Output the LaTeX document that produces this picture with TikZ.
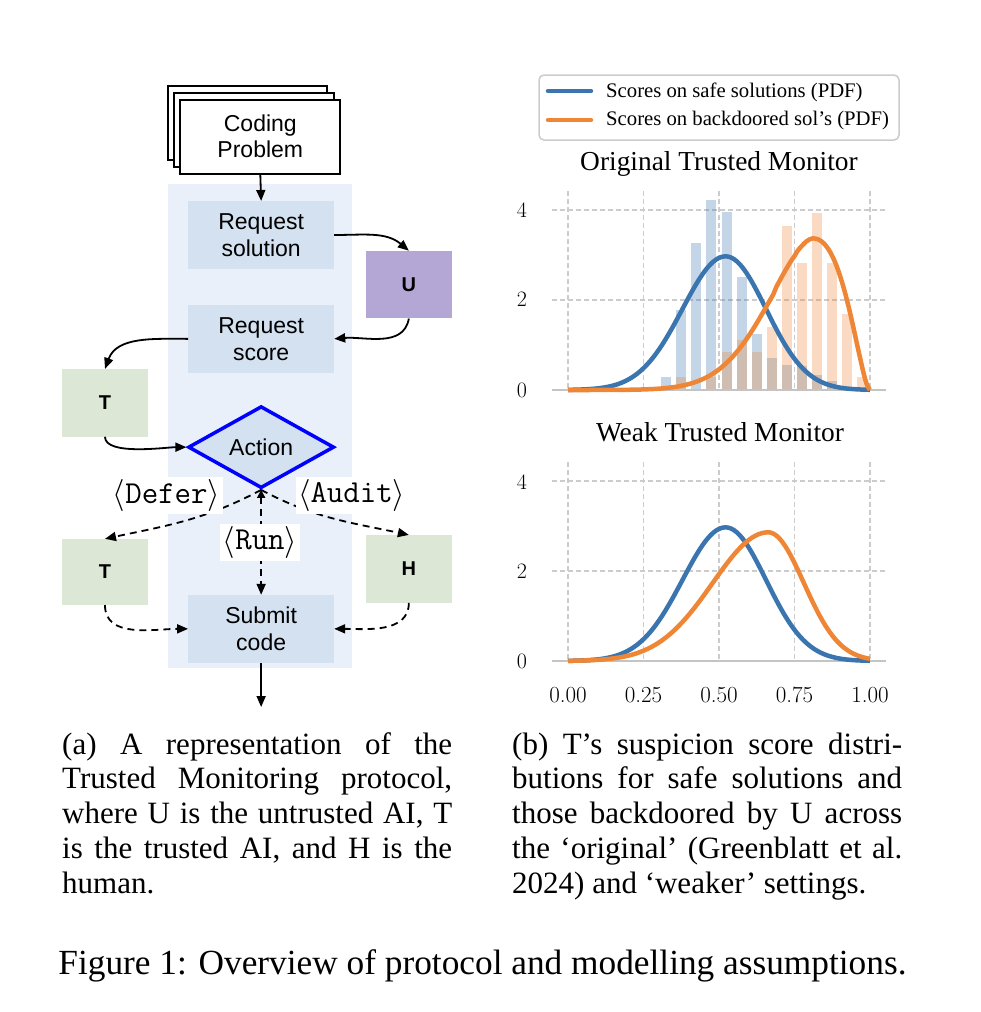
\documentclass[tikz,border=0pt]{standalone}
\usepackage{graphicx}
\usepackage{fontspec}
\newfontfamily\timesf{Liberation Serif}
\newfontfamily\arialf{Liberation Sans}
\usetikzlibrary{shapes.geometric,arrows.meta}
\definecolor{panelc}{HTML}{E9F0F9}
\definecolor{boxc}{HTML}{D3E1F1}
\definecolor{greenc}{HTML}{DCE8D5}
\definecolor{purplec}{HTML}{B4A7D6}
\definecolor{plotblue}{HTML}{3B75AF}
\definecolor{plotorange}{HTML}{EF8636}
\definecolor{gridc}{HTML}{CCCCCC}
\definecolor{axisc}{HTML}{C4C4C4}
\newcommand\fsz[2]{\fontsize{#1}{#2}\selectfont}
\newcommand\angl{{\fontsize{10}{12}\selectfont\raisebox{-0.2pt}{\scalebox{3.2}{$\langle$}}}}
\newcommand\angr{{\fontsize{10}{12}\selectfont\raisebox{-0.2pt}{\scalebox{3.2}{$\rangle$}}}}
\begin{document}
\begin{tikzpicture}[x=1pt,y=-1pt,
  procbox/.style={fill=boxc, minimum width=145.7pt, minimum height=67.7pt, inner sep=0pt,
     font=\arialf\fsz{23}{27}, align=center},
  agent/.style={minimum width=85.6pt, minimum height=67.5pt, inner sep=0pt,
     font=\arialf\bfseries\fsz{20}{24}},
  docst/.style={draw=black, fill=white, line width=1.8pt},
  arr/.style={-{Triangle[length=11pt,width=9pt]}, line width=1.8pt},
  dsh/.style={arr, dash pattern=on 7pt off 5pt},
  lbl/.style={fill=white, inner sep=2.5pt, font=\fsz{32}{36}},
  gridln/.style={draw=gridc, line width=1.3pt, dash pattern=on 5pt off 3pt},
  axln/.style={draw=axisc, line width=2.8pt},
  curve/.style={line width=4.5pt, line join=round},
  tick/.style={font=\fsz{22}{25}, inner sep=0pt},
  ttl/.style={font=\timesf\fsz{27.4}{30}, inner sep=0pt, anchor=base},
  leg/.style={font=\timesf\fsz{20.7}{24}, inner sep=0pt, anchor=west},
  capl/.style={font=\timesf\fsz{31}{35}, inner sep=0pt, anchor=base west},
  declare function={
    fb(\t)=2.97*exp(-ifthenelse(\t<0.522,24.5,28)*(\t-0.522)*(\t-0.522));
    fo(\t)=3.37*exp(ifthenelse(\t<0.812,-exp(2.728+1.75*ln(abs(\t-0.812)+0.0001)),1.7*(ln(max(1-\t,0.0005)/0.188)+(\t-0.812)/0.188)));
    fw(\t)=2.86*exp(-ifthenelse(\t<0.663,14.8,36)*(\t-0.663)*(\t-0.663));
  }]
\useasboundingbox (0,0) rectangle (980,1012);

% ---------------- left: protocol diagram ----------------
\fill[panelc] (168.3,184.3) rectangle (351.7,668.3);

\draw[docst] (168.3,86) rectangle (327.3,160);
\draw[docst] (174,92.7) rectangle (334,166.7);
\node[docst, minimum width=160pt, minimum height=74pt, inner sep=0pt,
      font=\arialf\fsz{23}{26}, align=center] (cp) at (260.3,136.6) {Coding\\Problem};

\node[procbox] (rs) at (261.15,235) {Request\\solution};
\node[procbox] (rsc) at (261.15,338.85) {Request\\score};
\node[procbox] (sc) at (261.15,628.85) {Submit\\code};
\node[agent, fill=purplec] (u) at (408.85,284.65) {U};
\node[agent, fill=greenc] (tu) at (105,402.85) {T};
\node[agent, fill=greenc, minimum height=66pt] (tl) at (105,572) {T};
\node[agent, fill=greenc] (h) at (408.85,568.85) {H};
\node[shape=diamond, draw=blue, line width=3.5pt, fill=boxc, minimum width=146pt,
      minimum height=82pt, inner sep=0pt, font=\arialf\fsz{23}{27}] (act) at (261.15,447.15) {Action};
\coordinate (outp) at (261.15,707);

\draw[arr] (cp.south) -- (rs.north);
\draw[arr] (rs.east) to[out=0,in=140] (u.north);
\draw[arr] (u.south) to[out=-100,in=5] (rsc.east);
\draw[arr] (rsc.west) to[out=180,in=70] (tu.north);
\draw[arr] (tu.south) to[out=-90,in=180,looseness=0.6] (act.west);
\draw[dsh] (act.south) to[out=-152,in=12] (tl.north);
\draw[dsh] (act.south) to[out=-28,in=168] (h.north);
\draw[dsh, {Triangle[length=8pt,width=8pt]}-{Triangle[length=11pt,width=9pt]}] (act.south) -- (sc.north);
\draw[dsh] (tl.south) to[out=-90,in=180] (sc.west);
\draw[dsh] (h.south) to[out=-90,in=0] (sc.east);
\draw[arr] (sc.south) -- (outp);

\node[lbl] (ldefer) at (166.5,495.5) {\angl\texttt{Defer}\angr};
\node[lbl] (laudit) at (351.7,495) {\angl\texttt{Audit}\angr};
\node[lbl] (lrun) at (260,542) {\angl\texttt{Run}\angr};

% ---------------- right: plots ----------------
% legend
\draw[rounded corners=5pt, draw=gridc, line width=1.5pt, fill=white] (539,75) rectangle (899,140);
\coordinate (lb1) at (548,91); \coordinate (lb2) at (591,91);
\coordinate (lo1) at (548,120); \coordinate (lo2) at (591,120);
\draw[plotblue, line width=4.5pt, line cap=round] (lb1) -- (lb2);
\draw[plotorange, line width=4.5pt, line cap=round] (lo1) -- (lo2);
\node[leg] (legb) at (606,92) {Scores on safe solutions (PDF)};
\node[leg] (lego) at (606,121) {Scores on backdoored sol’s (PDF)};

% top plot
\node[ttl] (t1) at (719,170) {Original Trusted Monitor};
\foreach \v in {0,0.25,0.5,0.75,1} \draw[gridln] ({568+302*\v},191) -- ({568+302*\v},390);
\foreach \h in {2,4} \draw[gridln] (552,{390-45*\h}) -- (886,{390-45*\h});
\foreach \c/\hh in {0.325/0.28,0.375/1.78,0.425/3.27,0.475/4.22,0.525/3.96,0.575/2.51,0.625/1.24,
                   0.675/0.72,0.725/0.55,0.775/0.54,0.825/0.33,0.875/0.2}
  \fill[plotblue, fill opacity=0.3] ({568+302*\c-5},390) rectangle ({568+302*\c+5},{390-45*\hh});
\foreach \c/\hh in {0.375/0.28,0.475/0.28,0.525/0.85,0.575/1.11,0.625/0.85,0.675/1.41,0.725/3.65,
                   0.775/2.83,0.825/3.94,0.875/2.83,0.925/1.69,0.975/0.29}
  \fill[plotorange, fill opacity=0.3] ({568+302*\c-5},390) rectangle ({568+302*\c+5},{390-45*\hh});
\draw[axln] (552,390) -- (886,390);
\draw[plotblue, curve] plot[smooth, domain=0:1, samples=101] ({568+302*\x},{390-45*fb(\x)});
\draw[plotorange, curve] plot[smooth, domain=0:1, samples=101] ({568+302*\x},{390-45*fo(\x)});
\node[tick] (ya4) at (522,210) {4};
\node[tick] (ya2) at (522,299) {2};
\node[tick] (ya0) at (522,390) {0};

% bottom plot
\node[ttl] (t2) at (720,441.5) {Weak Trusted Monitor};
\foreach \v in {0,0.25,0.5,0.75,1} \draw[gridln] ({568+302*\v},462) -- ({568+302*\v},661);
\foreach \h in {2,4} \draw[gridln] (552,{661-45*\h}) -- (886,{661-45*\h});
\draw[axln] (552,661) -- (886,661);
\draw[plotblue, curve] plot[smooth, domain=0:1, samples=101] ({568+302*\x},{661-45*fb(\x)});
\draw[plotorange, curve] plot[smooth, domain=0:1, samples=101] ({568+302*\x},{661-45*fw(\x)});
\node[tick] (yb4) at (522,482) {4};
\node[tick] (yb2) at (522,571) {2};
\node[tick] (yb0) at (522,661) {0};
\foreach \v/\s [count=\i] in {0/0.00,0.25/0.25,0.5/0.50,0.75/0.75,1/1.00}
  \node[tick, font=\fsz{23}{26}] (xt\i) at ({568+302*\v},695) {\s};

% ---------------- captions ----------------
\node[capl] (ca1) at (62,754) {\makebox[390pt][s]{(a) A representation of the}};
\node[capl] (ca2) at (62,788.75) {\makebox[390pt][s]{Trusted Monitoring protocol,}};
\node[capl] (ca3) at (62,823.5) {\makebox[390pt][s]{where U is the untrusted AI, T}};
\node[capl] (ca4) at (62,858.25) {\makebox[390pt][s]{is the trusted AI, and H is the}};
\node[capl] (ca5) at (62,893) {human.};
\node[capl] (cb1) at (512,754) {\makebox[390pt][s]{(b) T’s suspicion score distri-}};
\node[capl] (cb2) at (512,788.75) {\makebox[390pt][s]{butions for safe solutions and}};
\node[capl] (cb3) at (512,823.5) {\makebox[390pt][s]{those backdoored by U across}};
\node[capl] (cb4) at (512,858.25) {\makebox[390pt][s]{the ‘original’ (Greenblatt et al.}};
\node[capl] (cb5) at (512,893) {2024) and ‘weaker’ settings.};
\node[font=\timesf\fsz{35.3}{40}, inner sep=0pt, anchor=base] (fig) at (482.5,974)
  {Figure 1: Overview of protocol and modelling assumptions.};
\end{tikzpicture}
\end{document}
